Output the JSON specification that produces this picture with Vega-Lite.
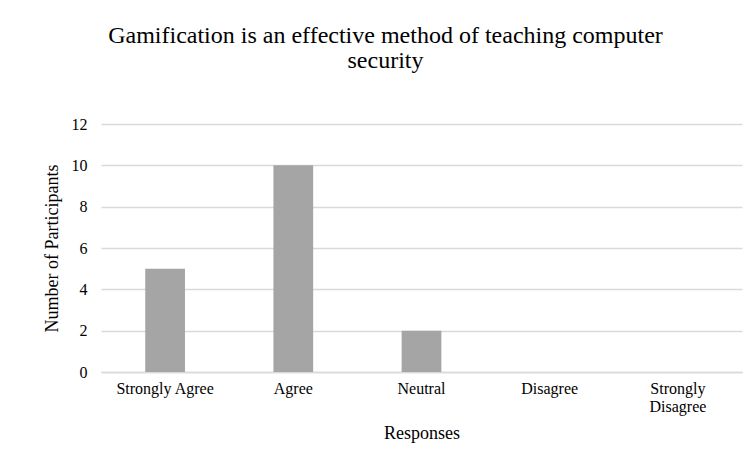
{
  "$schema": "https://vega.github.io/schema/vega-lite/v6.json",
  "autosize": {"type": "none"},
  "width": 641,
  "height": 248,
  "padding": {"left": 101, "top": 124, "right": 10, "bottom": 87},
  "background": "white",
  "title": {
    "text": "Gamification is an effective method of teaching computer",
    "subtitle": "security",
    "font": "Liberation Serif",
    "fontSize": 24,
    "fontWeight": "normal",
    "color": "#000000",
    "subtitleFont": "Liberation Serif",
    "subtitleFontSize": 24,
    "subtitleColor": "#000000",
    "subtitlePadding": 1,
    "anchor": "middle",
    "dx": -36,
    "offset": 43
  },
  "data": {
    "values": [
      {"response": "Strongly Agree", "count": 5},
      {"response": "Agree", "count": 10},
      {"response": "Neutral", "count": 2},
      {"response": "Disagree", "count": 0},
      {"response": "Strongly Disagree", "count": 0}
    ]
  },
  "mark": {"type": "bar", "color": "#a5a5a5"},
  "encoding": {
    "x": {
      "field": "response",
      "type": "nominal",
      "sort": null,
      "scale": {"paddingInner": 0.69, "paddingOuter": 0.345},
      "axis": {
        "title": "Responses",
        "labelAngle": 0,
        "labelExpr": "datum.label == 'Strongly Disagree' ? ['Strongly', 'Disagree'] : datum.label",
        "labelLineHeight": 18,
        "labelPadding": 8,
        "ticks": false,
        "domainColor": "#d9d9d9",
        "domainWidth": 1.5,
        "titlePadding": 10
      }
    },
    "y": {
      "field": "count",
      "type": "quantitative",
      "scale": {"domain": [0, 12]},
      "axis": {
        "title": "Number of Participants",
        "values": [0, 2, 4, 6, 8, 10, 12],
        "ticks": false,
        "domain": false,
        "labelPadding": 14,
        "titlePadding": 10,
        "gridColor": "#d9d9d9",
        "gridWidth": 1.5
      }
    }
  },
  "config": {
    "view": {"stroke": null},
    "axis": {
      "labelFont": "Liberation Serif",
      "labelFontSize": 16,
      "labelColor": "#000000",
      "titleFont": "Liberation Serif",
      "titleFontSize": 18,
      "titleFontWeight": "normal",
      "titleColor": "#000000"
    }
  }
}
